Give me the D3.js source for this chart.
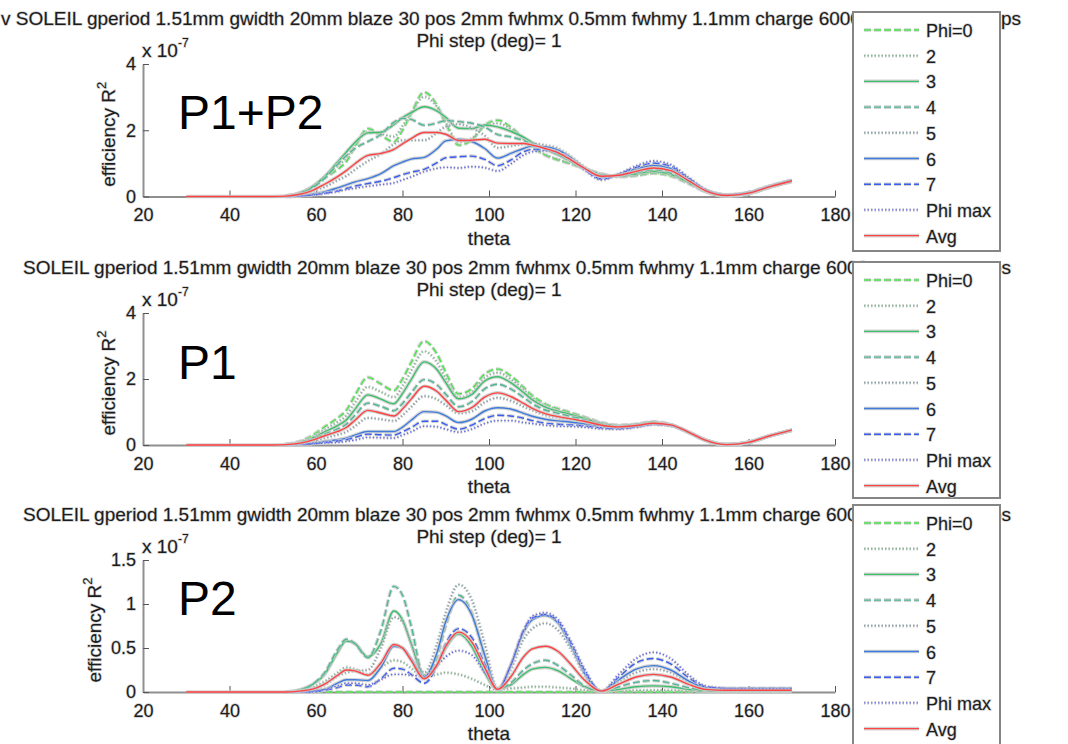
<!DOCTYPE html>
<html>
<head>
<meta charset="utf-8">
<script src="https://cdn.jsdelivr.net/npm/d3@7"></script>
<style>
  body { margin: 0; background: #fff; }
  svg { display: block; font-family: "Liberation Sans", Arial, Helvetica, sans-serif; }
  .lbl { fill: #1c1c1c; stroke: #cfcfcf; stroke-width: 1.3; paint-order: stroke; }
</style>
</head>
<body>
<div id="chart"></div>
<script>
/* DATA (efficiency in units of 1e-7) */
const theta = [30, 40, 50,
  53, 56, 59, 62, 65, 67, 69, 72, 75, 78,
  80, 82, 85, 88, 90, 93, 96, 99, 102, 105,
  108, 110, 113, 116, 119, 122, 126, 130, 134, 138,
  142, 146, 150, 155, 160, 165, 170];

const seriesNames = ["Phi=0", "2", "3", "4", "5", "6", "7", "Phi max", "Avg"];
const panelTags = ["P1+P2", "P1", "P2"];
const xTicks = [20, 40, 60, 80, 100, 120, 140, 160, 180];
const yTicksBig = [0, 2, 4];
const yTicksSmall = [0, 0.5, 1, 1.5];
const titleLine1 = "SOLEIL gperiod 1.51mm gwidth 20mm blaze 30 pos 2mm fwhmx 0.5mm fwhmy 1.1mm charge 6000";
const titleTail = "ps";
const titleLine2 = "Phi step (deg)= 1";

// P1+P2
const sumPhi0 = [null, null, null,
  .02, .1, .28, .55, .82, 1.05, 1.5, 2.05, 1.85, 1.65,
  2.0, 2.5, 3.15, 2.75, 2.2, 1.55, 1.7, 2.15, 2.3, 2.1,
  1.75, 1.5, 1.25, 1.1, .98, .85, .68, .6, .63, .7,
  .62, .4, .15, .01, .08, .28, .45];
const sumPhi2 = [null, null, null,
  .02, .1, .29, .59, .92, 1.17, 1.54, 1.96, 1.89, 1.81,
  2.12, 2.52, 3.01, 2.7, 2.24, 1.64, 1.75, 2.12, 2.21, 2.04,
  1.73, 1.5, 1.26, 1.12, .99, .85, .68, .6, .64, .71,
  .64, .41, .15, .01, .08, .28, .45];
const sumPhi3 = [null, null, null,
  .01, .09, .28, .6, 1.04, 1.34, 1.63, 1.92, 1.94, 2.17,
  2.38, 2.53, 2.71, 2.58, 2.39, 2.06, 2.05, 2.16, 2.1, 1.97,
  1.79, 1.63, 1.43, 1.26, 1.07, .87, .66, .61, .68, .76,
  .67, .43, .16, .02, .09, .29, .46];
const sumPhi4 = [null, null, null,
  .01, .08, .25, .55, .97, 1.23, 1.45, 1.66, 1.87, 2.24,
  2.36, 2.33, 2.15, 2.22, 2.29, 2.26, 2.21, 2.1, 1.87, 1.8,
  1.69, 1.57, 1.42, 1.26, 1.05, .84, .64, .62, .71, .81,
  .71, .45, .17, .02, .09, .29, .46];
const sumPhi5 = [null, null, null,
  .01, .05, .15, .29, .49, .62, .81, 1.07, 1.28, 1.58,
  1.7, 1.7, 1.7, 1.93, 2.11, 2.18, 2.07, 1.84, 1.47, 1.52,
  1.58, 1.6, 1.55, 1.45, 1.2, .9, .59, .66, .8, .92,
  .82, .52, .19, .03, .1, .3, .47];
const sumPhi6 = [null, null, null,
  0, .02, .07, .14, .26, .35, .44, .54, .69, .93,
  1.04, 1.13, 1.18, 1.44, 1.68, 1.73, 1.66, 1.45, 1.16, 1.3,
  1.45, 1.52, 1.5, 1.4, 1.17, .86, .57, .66, .83, .94,
  .85, .53, .2, .05, .12, .32, .49];
const sumPhi7 = [null, null, null,
  0, .02, .04, .1, .17, .24, .31, .39, .46, .57,
  .66, .73, .82, 1.02, 1.17, 1.2, 1.22, 1.12, .93, 1.1,
  1.35, 1.42, 1.42, 1.33, 1.12, .83, .53, .67, .88, 1.01,
  .91, .56, .21, .05, .12, .32, .49];
const sumPhiMax = [null, null, null,
  0, .01, .04, .09, .15, .21, .25, .31, .36, .41,
  .5, .59, .75, .85, .88, .86, .9, .87, .77, .98,
  1.25, 1.35, 1.38, 1.3, 1.1, .81, .5, .68, .92, 1.07,
  .96, .59, .22, .05, .11, .31, .48];
const sumAvg = [0, 0, 0,
  .01, .06, .17, .37, .6, .78, .99, 1.24, 1.3, 1.42,
  1.59, 1.75, 1.93, 1.93, 1.88, 1.69, 1.7, 1.73, 1.61, 1.6,
  1.6, 1.55, 1.45, 1.32, 1.1, .86, .61, .64, .76, .86,
  .78, .49, .18, .03, .1, .3, .47];

// P1
const p1Phi0 = [null, null, null,
  .02, .1, .28, .55, .82, 1.05, 1.5, 2.05, 1.85, 1.65,
  2.0, 2.5, 3.15, 2.75, 2.2, 1.55, 1.7, 2.15, 2.3, 2.1,
  1.75, 1.5, 1.25, 1.1, .98, .85, .68, .6, .63, .7,
  .62, .4, .15, .01, .08, .28, .45];
const p1Phi2 = [null, null, null,
  .02, .09, .24, .47, .7, .89, 1.28, 1.76, 1.61, 1.45,
  1.78, 2.25, 2.84, 2.5, 2.02, 1.44, 1.6, 2.04, 2.19, 2.0,
  1.68, 1.44, 1.2, 1.07, .95, .83, .67, .59, .62, .69,
  .62, .4, .15, .01, .08, .28, .45];
const p1Phi3 = [null, null, null,
  .01, .07, .2, .4, .59, .76, 1.08, 1.52, 1.39, 1.25,
  1.56, 1.98, 2.52, 2.28, 1.89, 1.4, 1.53, 1.94, 2.07, 1.89,
  1.59, 1.37, 1.15, 1.02, .92, .81, .65, .58, .62, .69,
  .61, .4, .15, .01, .08, .28, .45];
const p1Phi4 = [null, null, null,
  .01, .06, .17, .33, .49, .63, .9, 1.27, 1.17, 1.04,
  1.26, 1.58, 1.98, 1.82, 1.54, 1.16, 1.31, 1.7, 1.84, 1.7,
  1.44, 1.25, 1.06, .96, .86, .77, .63, .56, .6, .68,
  .61, .4, .15, .01, .08, .28, .45];
const p1Phi5 = [null, null, null,
  .01, .04, .11, .21, .31, .4, .57, .82, .78, .73,
  .9, 1.15, 1.48, 1.38, 1.21, .96, 1.02, 1.29, 1.43, 1.34,
  1.16, 1.05, .9, .83, .76, .7, .58, .54, .58, .66,
  .6, .4, .15, .01, .08, .28, .45];
const p1Phi6 = [null, null, null,
  0, .02, .06, .11, .16, .21, .3, .41, .41, .41,
  .54, .75, 1.01, .99, .88, .68, .78, 1.03, 1.13, 1.09,
  .96, .87, .78, .73, .69, .64, .56, .52, .57, .64,
  .6, .4, .15, .01, .08, .28, .45];
const p1Phi7 = [null, null, null,
  0, .02, .04, .08, .12, .16, .23, .33, .31, .3,
  .4, .53, .72, .72, .62, .48, .6, .8, .9, .88,
  .81, .74, .66, .63, .61, .58, .52, .5, .55, .63,
  .59, .39, .15, .01, .08, .28, .45];
const p1PhiMax = [null, null, null,
  0, .01, .03, .06, .08, .11, .15, .23, .22, .21,
  .3, .4, .57, .55, .48, .39, .48, .65, .74, .74,
  .68, .65, .6, .57, .56, .54, .49, .48, .54, .62,
  .58, .39, .15, .01, .08, .28, .45];
const p1Avg = [0, 0, 0,
  .01, .05, .14, .28, .41, .53, .75, 1.05, .97, .88,
  1.09, 1.39, 1.78, 1.62, 1.36, 1.01, 1.13, 1.45, 1.58, 1.47,
  1.26, 1.11, .95, .86, .79, .72, .6, .55, .59, .66,
  .61, .4, .15, .01, .08, .28, .45];

// P2
const p2Phi0 = [null, null, null,
  0, 0, 0, 0, 0, 0, 0, 0, 0, 0,
  0, 0, 0, 0, 0, 0, 0, 0, 0, 0,
  0, 0, 0, 0, 0, 0, 0, 0, 0, 0,
  0, 0, 0, 0, 0, 0, 0];
const p2Phi2 = [null, null, null,
  0, .01, .05, .12, .22, .28, .26, .2, .28, .36,
  .34, .27, .17, .2, .22, .2, .15, .08, .02, .04,
  .05, .06, .06, .05, .04, .02, .01, .01, .02, .02,
  .02, .01, 0, 0, 0, 0, 0];
const p2Phi3 = [null, null, null,
  0, .02, .08, .2, .45, .58, .55, .4, .55, .92,
  .82, .55, .19, .3, .5, .66, .52, .22, .03, .08,
  .2, .26, .28, .24, .15, .06, .01, .03, .06, .07,
  .06, .03, .01, .01, .01, .01, .01];
const p2Phi4 = [null, null, null,
  0, .02, .08, .22, .48, .6, .55, .39, .7, 1.2,
  1.1, .75, .17, .4, .75, 1.1, .9, .4, .03, .1,
  .25, .32, .36, .3, .19, .07, .01, .06, .11, .13,
  .1, .05, .02, .01, .01, .01, .01];
const p2Phi5 = [null, null, null,
  0, .01, .04, .08, .18, .22, .24, .25, .5, .85,
  .8, .55, .22, .55, .9, 1.22, 1.05, .55, .04, .25,
  .6, .72, .78, .7, .48, .2, .01, .12, .22, .26,
  .22, .12, .04, .02, .02, .02, .02];
const p2Phi6 = [null, null, null,
  0, 0, .01, .03, .1, .14, .14, .13, .28, .52,
  .5, .38, .17, .45, .8, 1.05, .88, .42, .03, .3,
  .68, .82, .87, .78, .52, .22, .01, .14, .26, .3,
  .25, .13, .05, .04, .04, .04, .04];
const p2Phi7 = [null, null, null,
  0, 0, 0, .02, .05, .08, .08, .06, .15, .27,
  .26, .2, .1, .3, .55, .72, .62, .32, .03, .3,
  .7, .84, .88, .8, .55, .25, .01, .17, .33, .38,
  .32, .17, .06, .04, .04, .04, .04];
const p2PhiMax = [null, null, null,
  0, 0, .01, .03, .07, .1, .1, .08, .14, .2,
  .2, .19, .18, .3, .4, .47, .42, .22, .03, .3,
  .7, .86, .9, .82, .57, .27, .01, .2, .38, .45,
  .38, .2, .07, .04, .03, .03, .03];
const p2Avg = [0, 0, 0,
  0, .01, .03, .09, .19, .25, .24, .19, .33, .54,
  .5, .36, .15, .31, .52, .68, .57, .28, .03, .17,
  .4, .49, .52, .46, .31, .14, .01, .09, .17, .2,
  .17, .09, .03, .02, .02, .02, .02];

/* CONSTANTS AND GLOBALS */
const width = 1068, height = 744;
const axisLeft = 143, axisRight = 835;
const legendLeft = 853, legendWidth = 147;
const seriesColors = ["#4be34b", "#86b894", "#3cbf6a", "#4db892", "#8aa2a8", "#3e7bdc", "#3a5cf0", "#6a6ee6", "#ff4343"];
const seriesDash = ["7,3", "1.5,2", null, "7,3", "1.5,2", null, "7,3", "1.5,2", null];

const panels = [
  { tag: panelTags[0], top: 64, base: 196.5, ymax: 4, ticks: yTicksBig, tagY: 129, first: "v ", x1: 1, tailX: 1001, ylabX: 115,
    series: [sumPhi0, sumPhi2, sumPhi3, sumPhi4, sumPhi5, sumPhi6, sumPhi7, sumPhiMax, sumAvg],
    legend: [12, 251] },
  { tag: panelTags[1], top: 313, base: 445, ymax: 4, ticks: yTicksBig, tagY: 379, first: "", x1: 23, tailX: 991, ylabX: 115,
    series: [p1Phi0, p1Phi2, p1Phi3, p1Phi4, p1Phi5, p1Phi6, p1Phi7, p1PhiMax, p1Avg],
    legend: [262, 498] },
  { tag: panelTags[2], top: 560, base: 692, ymax: 1.5, ticks: yTicksSmall, tagY: 615, first: "", x1: 23, tailX: 991, ylabX: 101,
    series: [p2Phi0, p2Phi2, p2Phi3, p2Phi4, p2Phi5, p2Phi6, p2Phi7, p2PhiMax, p2Avg],
    legend: [505, 746] }
];

let svg;
let x;

function init() {
  svg = d3.select("#chart")
    .append("svg")
    .attr("width", width)
    .attr("height", height);

  x = d3.scaleLinear().domain([20, 180]).range([axisLeft, axisRight]);

  panels.forEach(drawPanel);
}

function drawPanel(p) {
  const y = d3.scaleLinear().domain([0, p.ymax]).range([p.base, p.top]);
  const g = svg.append("g");

  // titles (the legend box covers the middle of line 1, only "ps" peeks out after it)
  g.append("text").attr("class", "lbl")
    .attr("x", p.x1).attr("y", p.top - 39)
    .attr("font-size", 19)
    .text(p.first + titleLine1);
  g.append("text").attr("class", "lbl")
    .attr("x", p.tailX).attr("y", p.top - 39)
    .attr("font-size", 19)
    .text(titleTail);
  g.append("text").attr("class", "lbl")
    .attr("x", (axisLeft + axisRight) / 2).attr("y", p.top - 17)
    .attr("text-anchor", "middle")
    .attr("font-size", 19)
    .text(titleLine2);

  // exponent
  const ex = g.append("text").attr("class", "lbl")
    .attr("x", axisLeft - 1).attr("y", p.top - 7)
    .attr("font-size", 19);
  ex.append("tspan").text("x 10");
  ex.append("tspan").attr("dy", -10).attr("font-size", 12).text("-7");

  // axes
  const xAxis = d3.axisBottom(x).tickValues(xTicks).tickSizeInner(-6).tickSizeOuter(0).tickPadding(12);
  const yAxis = d3.axisLeft(y).tickValues(p.ticks).tickSizeInner(-6).tickSizeOuter(0).tickPadding(7)
    .tickFormat(d3.format("~g"));

  const gx = g.append("g").attr("transform", `translate(0,${p.base})`).call(xAxis);
  const gy = g.append("g").attr("transform", `translate(${axisLeft},0)`).call(yAxis);
  [gx, gy].forEach(a => {
    a.select(".domain").attr("stroke", "#8f8f8f").attr("stroke-width", 2);
    a.selectAll(".tick line").attr("stroke", "#555").attr("stroke-width", 1);
    a.selectAll(".tick text").attr("class", "lbl").attr("font-size", 18)
      .attr("font-family", null).attr("fill", null);
  });
  gx.selectAll(".tick text").attr("dy", "0.71em");

  // axis labels
  g.append("text").attr("class", "lbl")
    .attr("x", (axisLeft + axisRight) / 2).attr("y", p.base + 48)
    .attr("text-anchor", "middle").attr("font-size", 19)
    .text("theta");
  const yl = g.append("text").attr("class", "lbl")
    .attr("transform", `translate(${p.ylabX},${(p.top + p.base) / 2 + 4}) rotate(-90)`)
    .attr("text-anchor", "middle").attr("font-size", 19);
  yl.append("tspan").text("efficiency R");
  yl.append("tspan").attr("dy", -9).attr("font-size", 13).text("2");

  // lines
  const line = d3.line()
    .defined(d => d[1] != null)
    .x(d => x(d[0]))
    .y(d => y(d[1]))
    .curve(d3.curveMonotoneX);

  p.series.forEach((vals, i) => {
    const pts = theta.map((t, k) => [t, vals[k]]);
    g.append("path")
      .attr("d", line(pts))
      .attr("fill", "none")
      .attr("stroke", "#c9c9c9")
      .attr("stroke-width", 3.6)
      .attr("stroke-dasharray", seriesDash[i])
      .attr("opacity", 0.8);
    g.append("path")
      .attr("d", line(pts))
      .attr("fill", "none")
      .attr("stroke", seriesColors[i])
      .attr("stroke-width", 1.4)
      .attr("stroke-dasharray", seriesDash[i]);
  });

  // big tag
  g.append("text")
    .attr("x", 178).attr("y", p.tagY)
    .attr("font-size", 48)
    .attr("fill", "#000")
    .text(p.tag);

  // legend
  const lg = g.append("g");
  lg.append("rect")
    .attr("x", legendLeft).attr("y", p.legend[0])
    .attr("width", legendWidth).attr("height", p.legend[1] - p.legend[0])
    .attr("fill", "#fff").attr("stroke", "#858585").attr("stroke-width", 2);
  const rowY = d3.scaleLinear().domain([0, 8]).range([p.legend[0] + 18, p.legend[0] + 18 + 8 * 25.7]);
  seriesNames.forEach((name, i) => {
    const yy = rowY(i);
    lg.append("line").attr("x1", legendLeft + 11).attr("x2", legendLeft + 66).attr("y1", yy).attr("y2", yy)
      .attr("stroke", "#c9c9c9").attr("stroke-width", 3.6).attr("opacity", 0.8)
      .attr("stroke-dasharray", seriesDash[i]);
    lg.append("line").attr("x1", legendLeft + 11).attr("x2", legendLeft + 66).attr("y1", yy).attr("y2", yy)
      .attr("stroke", seriesColors[i]).attr("stroke-width", 1.4)
      .attr("stroke-dasharray", seriesDash[i]);
    lg.append("text").attr("class", "lbl")
      .attr("x", legendLeft + 73).attr("y", yy + 7)
      .attr("font-size", 18)
      .text(name);
  });
}

init();
</script>
</body>
</html>
